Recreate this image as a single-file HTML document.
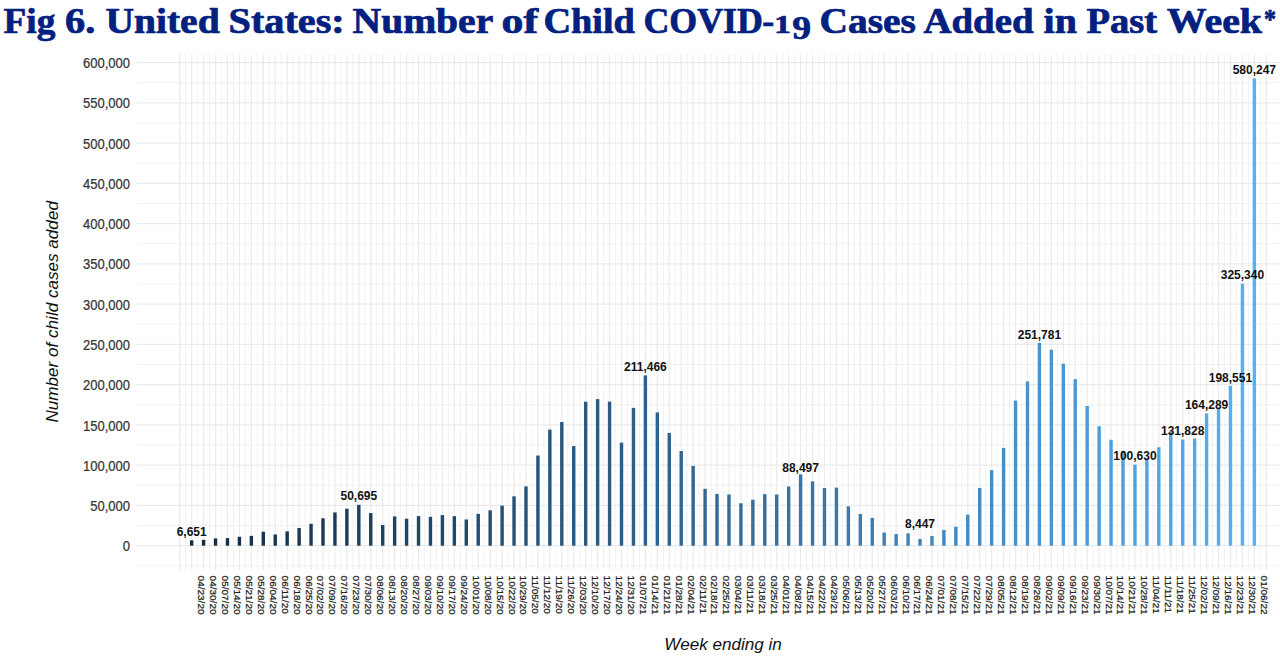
<!DOCTYPE html>
<html><head><meta charset="utf-8"><title>Fig 6</title>
<style>html,body{margin:0;padding:0;background:#fff;overflow:hidden}svg{display:block}text{font-family:"Liberation Sans",sans-serif}.t{font-family:"Liberation Serif",serif;font-weight:bold;font-size:34.8px;fill:#02207f;stroke:#02207f;stroke-width:0.7px;stroke-linejoin:round}.yl{font-size:13px;fill:#333;stroke:#333;stroke-width:0.2px;text-anchor:end}.xl{font-size:10px;fill:#222;stroke:#222;stroke-width:0.25px}.vl{font-size:12px;font-weight:bold;fill:#111;text-anchor:middle}.at{font-size:17.1px;font-style:italic;fill:#111}</style></head><body>
<svg width="1280" height="660" viewBox="0 0 1280 660">
<rect width="1280" height="660" fill="#fff"/>
<text class="t" style="font-size:34.8px" transform="translate(3.58,32.8) scale(1.0708,1)">Fig</text>
<text class="t" style="font-size:34.8px" transform="translate(65.08,32.8) scale(1.1588,1)">6.</text>
<text class="t" style="font-size:34.8px" transform="translate(105.38,32.8) scale(1.137,1)">United</text>
<text class="t" style="font-size:34.8px" transform="translate(228.62,32.8) scale(1.1553,1)">States:</text>
<text class="t" style="font-size:34.8px" transform="translate(352.57,32.8) scale(1.1374,1)">Number</text>
<text class="t" style="font-size:34.8px" transform="translate(501.59,32.8) scale(1.2591,1)">of</text>
<text class="t" style="font-size:34.8px" transform="translate(543.38,32.8) scale(1.0997,1)">Child</text>
<text class="t" style="font-size:34.8px" transform="translate(643.46,32.8) scale(1.0291,1)">COVID</text>
<text class="t" style="font-size:34.8px" transform="translate(762.32,32.8) scale(1.0308,1)">-</text>
<text class="t" style="font-size:24.8px" transform="translate(774.26,32.8) scale(1.3385,1)">1</text>
<text class="t" style="font-size:33.0px" transform="translate(792.28,38.7) scale(1.141,1)">9</text>
<text class="t" style="font-size:34.8px" transform="translate(819.53,32.8) scale(1.1327,1)">Cases</text>
<text class="t" style="font-size:34.8px" transform="translate(923.45,32.8) scale(1.1162,1)">Added</text>
<text class="t" style="font-size:34.8px" transform="translate(1043.53,32.8) scale(1.1487,1)">in</text>
<text class="t" style="font-size:34.8px" transform="translate(1086.47,32.8) scale(1.109,1)">Past</text>
<text class="t" style="font-size:34.8px" transform="translate(1166.86,32.8) scale(1.1447,1)">Week</text>
<text class="t" style="font-size:27.5px" transform="translate(1264.09,28.2) scale(0.8816,1)">*</text>
<g><line x1="136.8" x2="1280" y1="565.83" y2="565.83" stroke="#ebebeb" stroke-width="0.65"/><line x1="136.8" x2="1280" y1="545.70" y2="545.70" stroke="#ebebeb" stroke-width="1.25"/><line x1="136.8" x2="1280" y1="525.57" y2="525.57" stroke="#ebebeb" stroke-width="0.65"/><line x1="136.8" x2="1280" y1="505.43" y2="505.43" stroke="#ebebeb" stroke-width="1.25"/><line x1="136.8" x2="1280" y1="485.30" y2="485.30" stroke="#ebebeb" stroke-width="0.65"/><line x1="136.8" x2="1280" y1="465.17" y2="465.17" stroke="#ebebeb" stroke-width="1.25"/><line x1="136.8" x2="1280" y1="445.03" y2="445.03" stroke="#ebebeb" stroke-width="0.65"/><line x1="136.8" x2="1280" y1="424.90" y2="424.90" stroke="#ebebeb" stroke-width="1.25"/><line x1="136.8" x2="1280" y1="404.77" y2="404.77" stroke="#ebebeb" stroke-width="0.65"/><line x1="136.8" x2="1280" y1="384.63" y2="384.63" stroke="#ebebeb" stroke-width="1.25"/><line x1="136.8" x2="1280" y1="364.50" y2="364.50" stroke="#ebebeb" stroke-width="0.65"/><line x1="136.8" x2="1280" y1="344.37" y2="344.37" stroke="#ebebeb" stroke-width="1.25"/><line x1="136.8" x2="1280" y1="324.23" y2="324.23" stroke="#ebebeb" stroke-width="0.65"/><line x1="136.8" x2="1280" y1="304.10" y2="304.10" stroke="#ebebeb" stroke-width="1.25"/><line x1="136.8" x2="1280" y1="283.97" y2="283.97" stroke="#ebebeb" stroke-width="0.65"/><line x1="136.8" x2="1280" y1="263.83" y2="263.83" stroke="#ebebeb" stroke-width="1.25"/><line x1="136.8" x2="1280" y1="243.70" y2="243.70" stroke="#ebebeb" stroke-width="0.65"/><line x1="136.8" x2="1280" y1="223.57" y2="223.57" stroke="#ebebeb" stroke-width="1.25"/><line x1="136.8" x2="1280" y1="203.43" y2="203.43" stroke="#ebebeb" stroke-width="0.65"/><line x1="136.8" x2="1280" y1="183.30" y2="183.30" stroke="#ebebeb" stroke-width="1.25"/><line x1="136.8" x2="1280" y1="163.17" y2="163.17" stroke="#ebebeb" stroke-width="0.65"/><line x1="136.8" x2="1280" y1="143.03" y2="143.03" stroke="#ebebeb" stroke-width="1.25"/><line x1="136.8" x2="1280" y1="122.90" y2="122.90" stroke="#ebebeb" stroke-width="0.65"/><line x1="136.8" x2="1280" y1="102.77" y2="102.77" stroke="#ebebeb" stroke-width="1.25"/><line x1="136.8" x2="1280" y1="82.63" y2="82.63" stroke="#ebebeb" stroke-width="0.65"/><line x1="136.8" x2="1280" y1="62.50" y2="62.50" stroke="#ebebeb" stroke-width="1.25"/><line x1="179.71" x2="179.71" y1="54.4" y2="569.4" stroke="#ebebeb" stroke-width="1.25"/><line x1="185.68" x2="185.68" y1="54.4" y2="569.4" stroke="#ebebeb" stroke-width="0.65"/><line x1="191.65" x2="191.65" y1="54.4" y2="569.4" stroke="#ebebeb" stroke-width="1.25"/><line x1="197.62" x2="197.62" y1="54.4" y2="569.4" stroke="#ebebeb" stroke-width="0.65"/><line x1="203.59" x2="203.59" y1="54.4" y2="569.4" stroke="#ebebeb" stroke-width="1.25"/><line x1="209.56" x2="209.56" y1="54.4" y2="569.4" stroke="#ebebeb" stroke-width="0.65"/><line x1="215.53" x2="215.53" y1="54.4" y2="569.4" stroke="#ebebeb" stroke-width="1.25"/><line x1="221.50" x2="221.50" y1="54.4" y2="569.4" stroke="#ebebeb" stroke-width="0.65"/><line x1="227.47" x2="227.47" y1="54.4" y2="569.4" stroke="#ebebeb" stroke-width="1.25"/><line x1="233.44" x2="233.44" y1="54.4" y2="569.4" stroke="#ebebeb" stroke-width="0.65"/><line x1="239.41" x2="239.41" y1="54.4" y2="569.4" stroke="#ebebeb" stroke-width="1.25"/><line x1="245.38" x2="245.38" y1="54.4" y2="569.4" stroke="#ebebeb" stroke-width="0.65"/><line x1="251.35" x2="251.35" y1="54.4" y2="569.4" stroke="#ebebeb" stroke-width="1.25"/><line x1="257.32" x2="257.32" y1="54.4" y2="569.4" stroke="#ebebeb" stroke-width="0.65"/><line x1="263.29" x2="263.29" y1="54.4" y2="569.4" stroke="#ebebeb" stroke-width="1.25"/><line x1="269.26" x2="269.26" y1="54.4" y2="569.4" stroke="#ebebeb" stroke-width="0.65"/><line x1="275.23" x2="275.23" y1="54.4" y2="569.4" stroke="#ebebeb" stroke-width="1.25"/><line x1="281.20" x2="281.20" y1="54.4" y2="569.4" stroke="#ebebeb" stroke-width="0.65"/><line x1="287.17" x2="287.17" y1="54.4" y2="569.4" stroke="#ebebeb" stroke-width="1.25"/><line x1="293.14" x2="293.14" y1="54.4" y2="569.4" stroke="#ebebeb" stroke-width="0.65"/><line x1="299.11" x2="299.11" y1="54.4" y2="569.4" stroke="#ebebeb" stroke-width="1.25"/><line x1="305.08" x2="305.08" y1="54.4" y2="569.4" stroke="#ebebeb" stroke-width="0.65"/><line x1="311.05" x2="311.05" y1="54.4" y2="569.4" stroke="#ebebeb" stroke-width="1.25"/><line x1="317.02" x2="317.02" y1="54.4" y2="569.4" stroke="#ebebeb" stroke-width="0.65"/><line x1="322.99" x2="322.99" y1="54.4" y2="569.4" stroke="#ebebeb" stroke-width="1.25"/><line x1="328.97" x2="328.97" y1="54.4" y2="569.4" stroke="#ebebeb" stroke-width="0.65"/><line x1="334.94" x2="334.94" y1="54.4" y2="569.4" stroke="#ebebeb" stroke-width="1.25"/><line x1="340.91" x2="340.91" y1="54.4" y2="569.4" stroke="#ebebeb" stroke-width="0.65"/><line x1="346.88" x2="346.88" y1="54.4" y2="569.4" stroke="#ebebeb" stroke-width="1.25"/><line x1="352.85" x2="352.85" y1="54.4" y2="569.4" stroke="#ebebeb" stroke-width="0.65"/><line x1="358.82" x2="358.82" y1="54.4" y2="569.4" stroke="#ebebeb" stroke-width="1.25"/><line x1="364.79" x2="364.79" y1="54.4" y2="569.4" stroke="#ebebeb" stroke-width="0.65"/><line x1="370.76" x2="370.76" y1="54.4" y2="569.4" stroke="#ebebeb" stroke-width="1.25"/><line x1="376.73" x2="376.73" y1="54.4" y2="569.4" stroke="#ebebeb" stroke-width="0.65"/><line x1="382.70" x2="382.70" y1="54.4" y2="569.4" stroke="#ebebeb" stroke-width="1.25"/><line x1="388.67" x2="388.67" y1="54.4" y2="569.4" stroke="#ebebeb" stroke-width="0.65"/><line x1="394.64" x2="394.64" y1="54.4" y2="569.4" stroke="#ebebeb" stroke-width="1.25"/><line x1="400.61" x2="400.61" y1="54.4" y2="569.4" stroke="#ebebeb" stroke-width="0.65"/><line x1="406.58" x2="406.58" y1="54.4" y2="569.4" stroke="#ebebeb" stroke-width="1.25"/><line x1="412.55" x2="412.55" y1="54.4" y2="569.4" stroke="#ebebeb" stroke-width="0.65"/><line x1="418.52" x2="418.52" y1="54.4" y2="569.4" stroke="#ebebeb" stroke-width="1.25"/><line x1="424.49" x2="424.49" y1="54.4" y2="569.4" stroke="#ebebeb" stroke-width="0.65"/><line x1="430.46" x2="430.46" y1="54.4" y2="569.4" stroke="#ebebeb" stroke-width="1.25"/><line x1="436.43" x2="436.43" y1="54.4" y2="569.4" stroke="#ebebeb" stroke-width="0.65"/><line x1="442.40" x2="442.40" y1="54.4" y2="569.4" stroke="#ebebeb" stroke-width="1.25"/><line x1="448.37" x2="448.37" y1="54.4" y2="569.4" stroke="#ebebeb" stroke-width="0.65"/><line x1="454.34" x2="454.34" y1="54.4" y2="569.4" stroke="#ebebeb" stroke-width="1.25"/><line x1="460.31" x2="460.31" y1="54.4" y2="569.4" stroke="#ebebeb" stroke-width="0.65"/><line x1="466.28" x2="466.28" y1="54.4" y2="569.4" stroke="#ebebeb" stroke-width="1.25"/><line x1="472.25" x2="472.25" y1="54.4" y2="569.4" stroke="#ebebeb" stroke-width="0.65"/><line x1="478.22" x2="478.22" y1="54.4" y2="569.4" stroke="#ebebeb" stroke-width="1.25"/><line x1="484.19" x2="484.19" y1="54.4" y2="569.4" stroke="#ebebeb" stroke-width="0.65"/><line x1="490.16" x2="490.16" y1="54.4" y2="569.4" stroke="#ebebeb" stroke-width="1.25"/><line x1="496.13" x2="496.13" y1="54.4" y2="569.4" stroke="#ebebeb" stroke-width="0.65"/><line x1="502.10" x2="502.10" y1="54.4" y2="569.4" stroke="#ebebeb" stroke-width="1.25"/><line x1="508.07" x2="508.07" y1="54.4" y2="569.4" stroke="#ebebeb" stroke-width="0.65"/><line x1="514.04" x2="514.04" y1="54.4" y2="569.4" stroke="#ebebeb" stroke-width="1.25"/><line x1="520.01" x2="520.01" y1="54.4" y2="569.4" stroke="#ebebeb" stroke-width="0.65"/><line x1="525.98" x2="525.98" y1="54.4" y2="569.4" stroke="#ebebeb" stroke-width="1.25"/><line x1="531.95" x2="531.95" y1="54.4" y2="569.4" stroke="#ebebeb" stroke-width="0.65"/><line x1="537.92" x2="537.92" y1="54.4" y2="569.4" stroke="#ebebeb" stroke-width="1.25"/><line x1="543.89" x2="543.89" y1="54.4" y2="569.4" stroke="#ebebeb" stroke-width="0.65"/><line x1="549.86" x2="549.86" y1="54.4" y2="569.4" stroke="#ebebeb" stroke-width="1.25"/><line x1="555.83" x2="555.83" y1="54.4" y2="569.4" stroke="#ebebeb" stroke-width="0.65"/><line x1="561.80" x2="561.80" y1="54.4" y2="569.4" stroke="#ebebeb" stroke-width="1.25"/><line x1="567.77" x2="567.77" y1="54.4" y2="569.4" stroke="#ebebeb" stroke-width="0.65"/><line x1="573.74" x2="573.74" y1="54.4" y2="569.4" stroke="#ebebeb" stroke-width="1.25"/><line x1="579.71" x2="579.71" y1="54.4" y2="569.4" stroke="#ebebeb" stroke-width="0.65"/><line x1="585.68" x2="585.68" y1="54.4" y2="569.4" stroke="#ebebeb" stroke-width="1.25"/><line x1="591.66" x2="591.66" y1="54.4" y2="569.4" stroke="#ebebeb" stroke-width="0.65"/><line x1="597.63" x2="597.63" y1="54.4" y2="569.4" stroke="#ebebeb" stroke-width="1.25"/><line x1="603.60" x2="603.60" y1="54.4" y2="569.4" stroke="#ebebeb" stroke-width="0.65"/><line x1="609.57" x2="609.57" y1="54.4" y2="569.4" stroke="#ebebeb" stroke-width="1.25"/><line x1="615.54" x2="615.54" y1="54.4" y2="569.4" stroke="#ebebeb" stroke-width="0.65"/><line x1="621.51" x2="621.51" y1="54.4" y2="569.4" stroke="#ebebeb" stroke-width="1.25"/><line x1="627.48" x2="627.48" y1="54.4" y2="569.4" stroke="#ebebeb" stroke-width="0.65"/><line x1="633.45" x2="633.45" y1="54.4" y2="569.4" stroke="#ebebeb" stroke-width="1.25"/><line x1="639.42" x2="639.42" y1="54.4" y2="569.4" stroke="#ebebeb" stroke-width="0.65"/><line x1="645.39" x2="645.39" y1="54.4" y2="569.4" stroke="#ebebeb" stroke-width="1.25"/><line x1="651.36" x2="651.36" y1="54.4" y2="569.4" stroke="#ebebeb" stroke-width="0.65"/><line x1="657.33" x2="657.33" y1="54.4" y2="569.4" stroke="#ebebeb" stroke-width="1.25"/><line x1="663.30" x2="663.30" y1="54.4" y2="569.4" stroke="#ebebeb" stroke-width="0.65"/><line x1="669.27" x2="669.27" y1="54.4" y2="569.4" stroke="#ebebeb" stroke-width="1.25"/><line x1="675.24" x2="675.24" y1="54.4" y2="569.4" stroke="#ebebeb" stroke-width="0.65"/><line x1="681.21" x2="681.21" y1="54.4" y2="569.4" stroke="#ebebeb" stroke-width="1.25"/><line x1="687.18" x2="687.18" y1="54.4" y2="569.4" stroke="#ebebeb" stroke-width="0.65"/><line x1="693.15" x2="693.15" y1="54.4" y2="569.4" stroke="#ebebeb" stroke-width="1.25"/><line x1="699.12" x2="699.12" y1="54.4" y2="569.4" stroke="#ebebeb" stroke-width="0.65"/><line x1="705.09" x2="705.09" y1="54.4" y2="569.4" stroke="#ebebeb" stroke-width="1.25"/><line x1="711.06" x2="711.06" y1="54.4" y2="569.4" stroke="#ebebeb" stroke-width="0.65"/><line x1="717.03" x2="717.03" y1="54.4" y2="569.4" stroke="#ebebeb" stroke-width="1.25"/><line x1="723.00" x2="723.00" y1="54.4" y2="569.4" stroke="#ebebeb" stroke-width="0.65"/><line x1="728.97" x2="728.97" y1="54.4" y2="569.4" stroke="#ebebeb" stroke-width="1.25"/><line x1="734.94" x2="734.94" y1="54.4" y2="569.4" stroke="#ebebeb" stroke-width="0.65"/><line x1="740.91" x2="740.91" y1="54.4" y2="569.4" stroke="#ebebeb" stroke-width="1.25"/><line x1="746.88" x2="746.88" y1="54.4" y2="569.4" stroke="#ebebeb" stroke-width="0.65"/><line x1="752.85" x2="752.85" y1="54.4" y2="569.4" stroke="#ebebeb" stroke-width="1.25"/><line x1="758.82" x2="758.82" y1="54.4" y2="569.4" stroke="#ebebeb" stroke-width="0.65"/><line x1="764.79" x2="764.79" y1="54.4" y2="569.4" stroke="#ebebeb" stroke-width="1.25"/><line x1="770.76" x2="770.76" y1="54.4" y2="569.4" stroke="#ebebeb" stroke-width="0.65"/><line x1="776.73" x2="776.73" y1="54.4" y2="569.4" stroke="#ebebeb" stroke-width="1.25"/><line x1="782.70" x2="782.70" y1="54.4" y2="569.4" stroke="#ebebeb" stroke-width="0.65"/><line x1="788.67" x2="788.67" y1="54.4" y2="569.4" stroke="#ebebeb" stroke-width="1.25"/><line x1="794.64" x2="794.64" y1="54.4" y2="569.4" stroke="#ebebeb" stroke-width="0.65"/><line x1="800.61" x2="800.61" y1="54.4" y2="569.4" stroke="#ebebeb" stroke-width="1.25"/><line x1="806.58" x2="806.58" y1="54.4" y2="569.4" stroke="#ebebeb" stroke-width="0.65"/><line x1="812.55" x2="812.55" y1="54.4" y2="569.4" stroke="#ebebeb" stroke-width="1.25"/><line x1="818.52" x2="818.52" y1="54.4" y2="569.4" stroke="#ebebeb" stroke-width="0.65"/><line x1="824.49" x2="824.49" y1="54.4" y2="569.4" stroke="#ebebeb" stroke-width="1.25"/><line x1="830.46" x2="830.46" y1="54.4" y2="569.4" stroke="#ebebeb" stroke-width="0.65"/><line x1="836.43" x2="836.43" y1="54.4" y2="569.4" stroke="#ebebeb" stroke-width="1.25"/><line x1="842.40" x2="842.40" y1="54.4" y2="569.4" stroke="#ebebeb" stroke-width="0.65"/><line x1="848.37" x2="848.37" y1="54.4" y2="569.4" stroke="#ebebeb" stroke-width="1.25"/><line x1="854.34" x2="854.34" y1="54.4" y2="569.4" stroke="#ebebeb" stroke-width="0.65"/><line x1="860.32" x2="860.32" y1="54.4" y2="569.4" stroke="#ebebeb" stroke-width="1.25"/><line x1="866.29" x2="866.29" y1="54.4" y2="569.4" stroke="#ebebeb" stroke-width="0.65"/><line x1="872.26" x2="872.26" y1="54.4" y2="569.4" stroke="#ebebeb" stroke-width="1.25"/><line x1="878.23" x2="878.23" y1="54.4" y2="569.4" stroke="#ebebeb" stroke-width="0.65"/><line x1="884.20" x2="884.20" y1="54.4" y2="569.4" stroke="#ebebeb" stroke-width="1.25"/><line x1="890.17" x2="890.17" y1="54.4" y2="569.4" stroke="#ebebeb" stroke-width="0.65"/><line x1="896.14" x2="896.14" y1="54.4" y2="569.4" stroke="#ebebeb" stroke-width="1.25"/><line x1="902.11" x2="902.11" y1="54.4" y2="569.4" stroke="#ebebeb" stroke-width="0.65"/><line x1="908.08" x2="908.08" y1="54.4" y2="569.4" stroke="#ebebeb" stroke-width="1.25"/><line x1="914.05" x2="914.05" y1="54.4" y2="569.4" stroke="#ebebeb" stroke-width="0.65"/><line x1="920.02" x2="920.02" y1="54.4" y2="569.4" stroke="#ebebeb" stroke-width="1.25"/><line x1="925.99" x2="925.99" y1="54.4" y2="569.4" stroke="#ebebeb" stroke-width="0.65"/><line x1="931.96" x2="931.96" y1="54.4" y2="569.4" stroke="#ebebeb" stroke-width="1.25"/><line x1="937.93" x2="937.93" y1="54.4" y2="569.4" stroke="#ebebeb" stroke-width="0.65"/><line x1="943.90" x2="943.90" y1="54.4" y2="569.4" stroke="#ebebeb" stroke-width="1.25"/><line x1="949.87" x2="949.87" y1="54.4" y2="569.4" stroke="#ebebeb" stroke-width="0.65"/><line x1="955.84" x2="955.84" y1="54.4" y2="569.4" stroke="#ebebeb" stroke-width="1.25"/><line x1="961.81" x2="961.81" y1="54.4" y2="569.4" stroke="#ebebeb" stroke-width="0.65"/><line x1="967.78" x2="967.78" y1="54.4" y2="569.4" stroke="#ebebeb" stroke-width="1.25"/><line x1="973.75" x2="973.75" y1="54.4" y2="569.4" stroke="#ebebeb" stroke-width="0.65"/><line x1="979.72" x2="979.72" y1="54.4" y2="569.4" stroke="#ebebeb" stroke-width="1.25"/><line x1="985.69" x2="985.69" y1="54.4" y2="569.4" stroke="#ebebeb" stroke-width="0.65"/><line x1="991.66" x2="991.66" y1="54.4" y2="569.4" stroke="#ebebeb" stroke-width="1.25"/><line x1="997.63" x2="997.63" y1="54.4" y2="569.4" stroke="#ebebeb" stroke-width="0.65"/><line x1="1003.60" x2="1003.60" y1="54.4" y2="569.4" stroke="#ebebeb" stroke-width="1.25"/><line x1="1009.57" x2="1009.57" y1="54.4" y2="569.4" stroke="#ebebeb" stroke-width="0.65"/><line x1="1015.54" x2="1015.54" y1="54.4" y2="569.4" stroke="#ebebeb" stroke-width="1.25"/><line x1="1021.51" x2="1021.51" y1="54.4" y2="569.4" stroke="#ebebeb" stroke-width="0.65"/><line x1="1027.48" x2="1027.48" y1="54.4" y2="569.4" stroke="#ebebeb" stroke-width="1.25"/><line x1="1033.45" x2="1033.45" y1="54.4" y2="569.4" stroke="#ebebeb" stroke-width="0.65"/><line x1="1039.42" x2="1039.42" y1="54.4" y2="569.4" stroke="#ebebeb" stroke-width="1.25"/><line x1="1045.39" x2="1045.39" y1="54.4" y2="569.4" stroke="#ebebeb" stroke-width="0.65"/><line x1="1051.36" x2="1051.36" y1="54.4" y2="569.4" stroke="#ebebeb" stroke-width="1.25"/><line x1="1057.33" x2="1057.33" y1="54.4" y2="569.4" stroke="#ebebeb" stroke-width="0.65"/><line x1="1063.30" x2="1063.30" y1="54.4" y2="569.4" stroke="#ebebeb" stroke-width="1.25"/><line x1="1069.27" x2="1069.27" y1="54.4" y2="569.4" stroke="#ebebeb" stroke-width="0.65"/><line x1="1075.24" x2="1075.24" y1="54.4" y2="569.4" stroke="#ebebeb" stroke-width="1.25"/><line x1="1081.21" x2="1081.21" y1="54.4" y2="569.4" stroke="#ebebeb" stroke-width="0.65"/><line x1="1087.18" x2="1087.18" y1="54.4" y2="569.4" stroke="#ebebeb" stroke-width="1.25"/><line x1="1093.15" x2="1093.15" y1="54.4" y2="569.4" stroke="#ebebeb" stroke-width="0.65"/><line x1="1099.12" x2="1099.12" y1="54.4" y2="569.4" stroke="#ebebeb" stroke-width="1.25"/><line x1="1105.09" x2="1105.09" y1="54.4" y2="569.4" stroke="#ebebeb" stroke-width="0.65"/><line x1="1111.06" x2="1111.06" y1="54.4" y2="569.4" stroke="#ebebeb" stroke-width="1.25"/><line x1="1117.03" x2="1117.03" y1="54.4" y2="569.4" stroke="#ebebeb" stroke-width="0.65"/><line x1="1123.01" x2="1123.01" y1="54.4" y2="569.4" stroke="#ebebeb" stroke-width="1.25"/><line x1="1128.98" x2="1128.98" y1="54.4" y2="569.4" stroke="#ebebeb" stroke-width="0.65"/><line x1="1134.95" x2="1134.95" y1="54.4" y2="569.4" stroke="#ebebeb" stroke-width="1.25"/><line x1="1140.92" x2="1140.92" y1="54.4" y2="569.4" stroke="#ebebeb" stroke-width="0.65"/><line x1="1146.89" x2="1146.89" y1="54.4" y2="569.4" stroke="#ebebeb" stroke-width="1.25"/><line x1="1152.86" x2="1152.86" y1="54.4" y2="569.4" stroke="#ebebeb" stroke-width="0.65"/><line x1="1158.83" x2="1158.83" y1="54.4" y2="569.4" stroke="#ebebeb" stroke-width="1.25"/><line x1="1164.80" x2="1164.80" y1="54.4" y2="569.4" stroke="#ebebeb" stroke-width="0.65"/><line x1="1170.77" x2="1170.77" y1="54.4" y2="569.4" stroke="#ebebeb" stroke-width="1.25"/><line x1="1176.74" x2="1176.74" y1="54.4" y2="569.4" stroke="#ebebeb" stroke-width="0.65"/><line x1="1182.71" x2="1182.71" y1="54.4" y2="569.4" stroke="#ebebeb" stroke-width="1.25"/><line x1="1188.68" x2="1188.68" y1="54.4" y2="569.4" stroke="#ebebeb" stroke-width="0.65"/><line x1="1194.65" x2="1194.65" y1="54.4" y2="569.4" stroke="#ebebeb" stroke-width="1.25"/><line x1="1200.62" x2="1200.62" y1="54.4" y2="569.4" stroke="#ebebeb" stroke-width="0.65"/><line x1="1206.59" x2="1206.59" y1="54.4" y2="569.4" stroke="#ebebeb" stroke-width="1.25"/><line x1="1212.56" x2="1212.56" y1="54.4" y2="569.4" stroke="#ebebeb" stroke-width="0.65"/><line x1="1218.53" x2="1218.53" y1="54.4" y2="569.4" stroke="#ebebeb" stroke-width="1.25"/><line x1="1224.50" x2="1224.50" y1="54.4" y2="569.4" stroke="#ebebeb" stroke-width="0.65"/><line x1="1230.47" x2="1230.47" y1="54.4" y2="569.4" stroke="#ebebeb" stroke-width="1.25"/><line x1="1236.44" x2="1236.44" y1="54.4" y2="569.4" stroke="#ebebeb" stroke-width="0.65"/><line x1="1242.41" x2="1242.41" y1="54.4" y2="569.4" stroke="#ebebeb" stroke-width="1.25"/><line x1="1248.38" x2="1248.38" y1="54.4" y2="569.4" stroke="#ebebeb" stroke-width="0.65"/><line x1="1254.35" x2="1254.35" y1="54.4" y2="569.4" stroke="#ebebeb" stroke-width="1.25"/><line x1="1260.32" x2="1260.32" y1="54.4" y2="569.4" stroke="#ebebeb" stroke-width="0.65"/><line x1="1266.29" x2="1266.29" y1="54.4" y2="569.4" stroke="#ebebeb" stroke-width="1.25"/></g>
<g><rect x="189.95" y="540.34" width="3.4" height="5.36" fill="#132b43"/><rect x="201.89" y="539.86" width="3.4" height="5.84" fill="#142c45"/><rect x="213.83" y="538.45" width="3.4" height="7.25" fill="#142e47"/><rect x="225.77" y="538.13" width="3.4" height="7.57" fill="#152f48"/><rect x="237.71" y="536.76" width="3.4" height="8.94" fill="#16304a"/><rect x="249.65" y="535.87" width="3.4" height="9.83" fill="#16324c"/><rect x="261.59" y="531.77" width="3.4" height="13.93" fill="#17334e"/><rect x="273.53" y="534.51" width="3.4" height="11.19" fill="#183450"/><rect x="285.47" y="531.37" width="3.4" height="14.33" fill="#183651"/><rect x="297.41" y="528.06" width="3.4" height="17.64" fill="#193753"/><rect x="309.35" y="523.79" width="3.4" height="21.91" fill="#1a3855"/><rect x="321.29" y="518.32" width="3.4" height="27.38" fill="#1a3a57"/><rect x="333.24" y="512.44" width="3.4" height="33.26" fill="#1b3b59"/><rect x="345.18" y="508.74" width="3.4" height="36.96" fill="#1c3c5b"/><rect x="357.12" y="504.87" width="3.4" height="40.83" fill="#1d3e5c"/><rect x="369.06" y="513.08" width="3.4" height="32.62" fill="#1d3f5e"/><rect x="381.00" y="525.08" width="3.4" height="20.62" fill="#1e4160"/><rect x="392.94" y="516.47" width="3.4" height="29.23" fill="#1f4262"/><rect x="404.88" y="518.72" width="3.4" height="26.98" fill="#1f4364"/><rect x="416.82" y="516.14" width="3.4" height="29.56" fill="#204566"/><rect x="428.76" y="516.87" width="3.4" height="28.83" fill="#214668"/><rect x="440.70" y="515.10" width="3.4" height="30.60" fill="#22486a"/><rect x="452.64" y="516.14" width="3.4" height="29.56" fill="#22496b"/><rect x="464.58" y="519.45" width="3.4" height="26.25" fill="#234a6d"/><rect x="476.52" y="513.89" width="3.4" height="31.81" fill="#244c6f"/><rect x="488.46" y="510.27" width="3.4" height="35.43" fill="#244d71"/><rect x="500.40" y="505.59" width="3.4" height="40.11" fill="#254f73"/><rect x="512.34" y="496.33" width="3.4" height="49.37" fill="#265075"/><rect x="524.28" y="486.43" width="3.4" height="59.27" fill="#275277"/><rect x="536.22" y="455.55" width="3.4" height="90.15" fill="#275379"/><rect x="548.16" y="429.62" width="3.4" height="116.08" fill="#28557b"/><rect x="560.10" y="421.99" width="3.4" height="123.71" fill="#29567d"/><rect x="572.04" y="446.09" width="3.4" height="99.61" fill="#29577f"/><rect x="583.98" y="401.69" width="3.4" height="144.01" fill="#2a5981"/><rect x="595.93" y="399.11" width="3.4" height="146.59" fill="#2b5a83"/><rect x="607.87" y="401.60" width="3.4" height="144.10" fill="#2c5c85"/><rect x="619.81" y="442.62" width="3.4" height="103.08" fill="#2c5d87"/><rect x="631.75" y="407.92" width="3.4" height="137.78" fill="#2d5f89"/><rect x="643.69" y="375.40" width="3.4" height="170.30" fill="#2e608b"/><rect x="655.63" y="412.43" width="3.4" height="133.27" fill="#2f628d"/><rect x="667.57" y="432.92" width="3.4" height="112.78" fill="#2f638f"/><rect x="679.51" y="451.06" width="3.4" height="94.64" fill="#306591"/><rect x="691.45" y="465.91" width="3.4" height="79.79" fill="#316693"/><rect x="703.39" y="488.81" width="3.4" height="56.89" fill="#326895"/><rect x="715.33" y="493.95" width="3.4" height="51.75" fill="#326997"/><rect x="727.27" y="494.51" width="3.4" height="51.19" fill="#336b99"/><rect x="739.21" y="503.26" width="3.4" height="42.44" fill="#346c9b"/><rect x="751.15" y="499.73" width="3.4" height="45.97" fill="#356e9d"/><rect x="763.09" y="494.14" width="3.4" height="51.56" fill="#356f9f"/><rect x="775.03" y="494.56" width="3.4" height="51.14" fill="#3671a1"/><rect x="786.97" y="486.51" width="3.4" height="59.19" fill="#3773a3"/><rect x="798.91" y="474.43" width="3.4" height="71.27" fill="#3874a5"/><rect x="810.85" y="481.37" width="3.4" height="64.33" fill="#3976a7"/><rect x="822.79" y="488.00" width="3.4" height="57.70" fill="#3977a9"/><rect x="834.73" y="487.66" width="3.4" height="58.04" fill="#3a79ac"/><rect x="846.67" y="506.31" width="3.4" height="39.39" fill="#3b7aae"/><rect x="858.62" y="513.97" width="3.4" height="31.73" fill="#3c7cb0"/><rect x="870.56" y="517.95" width="3.4" height="27.75" fill="#3c7db2"/><rect x="882.50" y="532.59" width="3.4" height="13.11" fill="#3d7fb4"/><rect x="894.44" y="534.08" width="3.4" height="11.62" fill="#3e80b6"/><rect x="906.38" y="533.38" width="3.4" height="12.32" fill="#3f82b8"/><rect x="918.32" y="538.90" width="3.4" height="6.80" fill="#3f84ba"/><rect x="930.26" y="536.06" width="3.4" height="9.64" fill="#4085bc"/><rect x="942.20" y="530.01" width="3.4" height="15.69" fill="#4187be"/><rect x="954.14" y="526.73" width="3.4" height="18.97" fill="#4288c1"/><rect x="966.08" y="514.57" width="3.4" height="31.13" fill="#438ac3"/><rect x="978.02" y="487.94" width="3.4" height="57.76" fill="#438cc5"/><rect x="989.96" y="470.14" width="3.4" height="75.56" fill="#448dc7"/><rect x="1001.90" y="447.91" width="3.4" height="97.79" fill="#458fc9"/><rect x="1013.84" y="400.60" width="3.4" height="145.10" fill="#4690cb"/><rect x="1025.78" y="381.44" width="3.4" height="164.26" fill="#4792cd"/><rect x="1037.72" y="342.93" width="3.4" height="202.77" fill="#4794d0"/><rect x="1049.66" y="349.70" width="3.4" height="196.00" fill="#4895d2"/><rect x="1061.60" y="363.71" width="3.4" height="181.99" fill="#4997d4"/><rect x="1073.54" y="379.11" width="3.4" height="166.59" fill="#4a98d6"/><rect x="1085.48" y="406.00" width="3.4" height="139.70" fill="#4b9ad8"/><rect x="1097.42" y="426.33" width="3.4" height="119.37" fill="#4b9cda"/><rect x="1109.36" y="439.82" width="3.4" height="105.88" fill="#4c9ddd"/><rect x="1121.31" y="450.69" width="3.4" height="95.01" fill="#4d9fdf"/><rect x="1133.25" y="464.66" width="3.4" height="81.04" fill="#4ea1e1"/><rect x="1145.19" y="459.25" width="3.4" height="86.45" fill="#4fa2e3"/><rect x="1157.13" y="447.26" width="3.4" height="98.44" fill="#4fa4e5"/><rect x="1169.07" y="431.42" width="3.4" height="114.28" fill="#50a5e7"/><rect x="1181.01" y="439.53" width="3.4" height="106.17" fill="#51a7ea"/><rect x="1192.95" y="438.57" width="3.4" height="107.13" fill="#52a9ec"/><rect x="1204.89" y="413.39" width="3.4" height="132.31" fill="#53aaee"/><rect x="1216.83" y="408.82" width="3.4" height="136.88" fill="#54acf0"/><rect x="1228.77" y="385.80" width="3.4" height="159.90" fill="#54aef3"/><rect x="1240.71" y="283.69" width="3.4" height="262.01" fill="#55aff5"/><rect x="1252.65" y="78.41" width="3.4" height="467.29" fill="#56b1f7"/></g>
<g><text class="yl" transform="translate(130.0,551.35) scale(1,1.07)">0</text><text class="yl" transform="translate(130.0,511.08) scale(1,1.07)">50,000</text><text class="yl" transform="translate(130.0,470.82) scale(1,1.07)">100,000</text><text class="yl" transform="translate(130.0,430.55) scale(1,1.07)">150,000</text><text class="yl" transform="translate(130.0,390.28) scale(1,1.07)">200,000</text><text class="yl" transform="translate(130.0,350.02) scale(1,1.07)">250,000</text><text class="yl" transform="translate(130.0,309.75) scale(1,1.07)">300,000</text><text class="yl" transform="translate(130.0,269.48) scale(1,1.07)">350,000</text><text class="yl" transform="translate(130.0,229.22) scale(1,1.07)">400,000</text><text class="yl" transform="translate(130.0,188.95) scale(1,1.07)">450,000</text><text class="yl" transform="translate(130.0,148.68) scale(1,1.07)">500,000</text><text class="yl" transform="translate(130.0,108.42) scale(1,1.07)">550,000</text><text class="yl" transform="translate(130.0,68.15) scale(1,1.07)">600,000</text></g>
<g><text class="xl" transform="translate(198.05,575.6) rotate(90) scale(1,0.95)">04/23/20</text><text class="xl" transform="translate(209.99,575.6) rotate(90) scale(1,0.95)">04/30/20</text><text class="xl" transform="translate(221.93,575.6) rotate(90) scale(1,0.95)">05/07/20</text><text class="xl" transform="translate(233.87,575.6) rotate(90) scale(1,0.95)">05/14/20</text><text class="xl" transform="translate(245.81,575.6) rotate(90) scale(1,0.95)">05/21/20</text><text class="xl" transform="translate(257.75,575.6) rotate(90) scale(1,0.95)">05/28/20</text><text class="xl" transform="translate(269.69,575.6) rotate(90) scale(1,0.95)">06/04/20</text><text class="xl" transform="translate(281.63,575.6) rotate(90) scale(1,0.95)">06/11/20</text><text class="xl" transform="translate(293.57,575.6) rotate(90) scale(1,0.95)">06/18/20</text><text class="xl" transform="translate(305.51,575.6) rotate(90) scale(1,0.95)">06/25/20</text><text class="xl" transform="translate(317.45,575.6) rotate(90) scale(1,0.95)">07/02/20</text><text class="xl" transform="translate(329.39,575.6) rotate(90) scale(1,0.95)">07/09/20</text><text class="xl" transform="translate(341.34,575.6) rotate(90) scale(1,0.95)">07/16/20</text><text class="xl" transform="translate(353.28,575.6) rotate(90) scale(1,0.95)">07/23/20</text><text class="xl" transform="translate(365.22,575.6) rotate(90) scale(1,0.95)">07/30/20</text><text class="xl" transform="translate(377.16,575.6) rotate(90) scale(1,0.95)">08/06/20</text><text class="xl" transform="translate(389.10,575.6) rotate(90) scale(1,0.95)">08/13/20</text><text class="xl" transform="translate(401.04,575.6) rotate(90) scale(1,0.95)">08/20/20</text><text class="xl" transform="translate(412.98,575.6) rotate(90) scale(1,0.95)">08/27/20</text><text class="xl" transform="translate(424.92,575.6) rotate(90) scale(1,0.95)">09/03/20</text><text class="xl" transform="translate(436.86,575.6) rotate(90) scale(1,0.95)">09/10/20</text><text class="xl" transform="translate(448.80,575.6) rotate(90) scale(1,0.95)">09/17/20</text><text class="xl" transform="translate(460.74,575.6) rotate(90) scale(1,0.95)">09/24/20</text><text class="xl" transform="translate(472.68,575.6) rotate(90) scale(1,0.95)">10/01/20</text><text class="xl" transform="translate(484.62,575.6) rotate(90) scale(1,0.95)">10/08/20</text><text class="xl" transform="translate(496.56,575.6) rotate(90) scale(1,0.95)">10/15/20</text><text class="xl" transform="translate(508.50,575.6) rotate(90) scale(1,0.95)">10/22/20</text><text class="xl" transform="translate(520.44,575.6) rotate(90) scale(1,0.95)">10/29/20</text><text class="xl" transform="translate(532.38,575.6) rotate(90) scale(1,0.95)">11/05/20</text><text class="xl" transform="translate(544.32,575.6) rotate(90) scale(1,0.95)">11/12/20</text><text class="xl" transform="translate(556.26,575.6) rotate(90) scale(1,0.95)">11/19/20</text><text class="xl" transform="translate(568.20,575.6) rotate(90) scale(1,0.95)">11/26/20</text><text class="xl" transform="translate(580.14,575.6) rotate(90) scale(1,0.95)">12/03/20</text><text class="xl" transform="translate(592.08,575.6) rotate(90) scale(1,0.95)">12/10/20</text><text class="xl" transform="translate(604.03,575.6) rotate(90) scale(1,0.95)">12/17/20</text><text class="xl" transform="translate(615.97,575.6) rotate(90) scale(1,0.95)">12/24/20</text><text class="xl" transform="translate(627.91,575.6) rotate(90) scale(1,0.95)">12/31/20</text><text class="xl" transform="translate(639.85,575.6) rotate(90) scale(1,0.95)">01/07/21</text><text class="xl" transform="translate(651.79,575.6) rotate(90) scale(1,0.95)">01/14/21</text><text class="xl" transform="translate(663.73,575.6) rotate(90) scale(1,0.95)">01/21/21</text><text class="xl" transform="translate(675.67,575.6) rotate(90) scale(1,0.95)">01/28/21</text><text class="xl" transform="translate(687.61,575.6) rotate(90) scale(1,0.95)">02/04/21</text><text class="xl" transform="translate(699.55,575.6) rotate(90) scale(1,0.95)">02/11/21</text><text class="xl" transform="translate(711.49,575.6) rotate(90) scale(1,0.95)">02/18/21</text><text class="xl" transform="translate(723.43,575.6) rotate(90) scale(1,0.95)">02/25/21</text><text class="xl" transform="translate(735.37,575.6) rotate(90) scale(1,0.95)">03/04/21</text><text class="xl" transform="translate(747.31,575.6) rotate(90) scale(1,0.95)">03/11/21</text><text class="xl" transform="translate(759.25,575.6) rotate(90) scale(1,0.95)">03/18/21</text><text class="xl" transform="translate(771.19,575.6) rotate(90) scale(1,0.95)">03/25/21</text><text class="xl" transform="translate(783.13,575.6) rotate(90) scale(1,0.95)">04/01/21</text><text class="xl" transform="translate(795.07,575.6) rotate(90) scale(1,0.95)">04/08/21</text><text class="xl" transform="translate(807.01,575.6) rotate(90) scale(1,0.95)">04/15/21</text><text class="xl" transform="translate(818.95,575.6) rotate(90) scale(1,0.95)">04/22/21</text><text class="xl" transform="translate(830.89,575.6) rotate(90) scale(1,0.95)">04/29/21</text><text class="xl" transform="translate(842.83,575.6) rotate(90) scale(1,0.95)">05/06/21</text><text class="xl" transform="translate(854.77,575.6) rotate(90) scale(1,0.95)">05/13/21</text><text class="xl" transform="translate(866.72,575.6) rotate(90) scale(1,0.95)">05/20/21</text><text class="xl" transform="translate(878.66,575.6) rotate(90) scale(1,0.95)">05/27/21</text><text class="xl" transform="translate(890.60,575.6) rotate(90) scale(1,0.95)">06/03/21</text><text class="xl" transform="translate(902.54,575.6) rotate(90) scale(1,0.95)">06/10/21</text><text class="xl" transform="translate(914.48,575.6) rotate(90) scale(1,0.95)">06/17/21</text><text class="xl" transform="translate(926.42,575.6) rotate(90) scale(1,0.95)">06/24/21</text><text class="xl" transform="translate(938.36,575.6) rotate(90) scale(1,0.95)">07/01/21</text><text class="xl" transform="translate(950.30,575.6) rotate(90) scale(1,0.95)">07/08/21</text><text class="xl" transform="translate(962.24,575.6) rotate(90) scale(1,0.95)">07/15/21</text><text class="xl" transform="translate(974.18,575.6) rotate(90) scale(1,0.95)">07/22/21</text><text class="xl" transform="translate(986.12,575.6) rotate(90) scale(1,0.95)">07/29/21</text><text class="xl" transform="translate(998.06,575.6) rotate(90) scale(1,0.95)">08/05/21</text><text class="xl" transform="translate(1010.00,575.6) rotate(90) scale(1,0.95)">08/12/21</text><text class="xl" transform="translate(1021.94,575.6) rotate(90) scale(1,0.95)">08/19/21</text><text class="xl" transform="translate(1033.88,575.6) rotate(90) scale(1,0.95)">08/26/21</text><text class="xl" transform="translate(1045.82,575.6) rotate(90) scale(1,0.95)">09/02/21</text><text class="xl" transform="translate(1057.76,575.6) rotate(90) scale(1,0.95)">09/09/21</text><text class="xl" transform="translate(1069.70,575.6) rotate(90) scale(1,0.95)">09/16/21</text><text class="xl" transform="translate(1081.64,575.6) rotate(90) scale(1,0.95)">09/23/21</text><text class="xl" transform="translate(1093.58,575.6) rotate(90) scale(1,0.95)">09/30/21</text><text class="xl" transform="translate(1105.52,575.6) rotate(90) scale(1,0.95)">10/07/21</text><text class="xl" transform="translate(1117.46,575.6) rotate(90) scale(1,0.95)">10/14/21</text><text class="xl" transform="translate(1129.41,575.6) rotate(90) scale(1,0.95)">10/21/21</text><text class="xl" transform="translate(1141.35,575.6) rotate(90) scale(1,0.95)">10/28/21</text><text class="xl" transform="translate(1153.29,575.6) rotate(90) scale(1,0.95)">11/04/21</text><text class="xl" transform="translate(1165.23,575.6) rotate(90) scale(1,0.95)">11/11/21</text><text class="xl" transform="translate(1177.17,575.6) rotate(90) scale(1,0.95)">11/18/21</text><text class="xl" transform="translate(1189.11,575.6) rotate(90) scale(1,0.95)">11/25/21</text><text class="xl" transform="translate(1201.05,575.6) rotate(90) scale(1,0.95)">12/02/21</text><text class="xl" transform="translate(1212.99,575.6) rotate(90) scale(1,0.95)">12/09/21</text><text class="xl" transform="translate(1224.93,575.6) rotate(90) scale(1,0.95)">12/16/21</text><text class="xl" transform="translate(1236.87,575.6) rotate(90) scale(1,0.95)">12/23/21</text><text class="xl" transform="translate(1248.81,575.6) rotate(90) scale(1,0.95)">12/30/21</text><text class="xl" transform="translate(1260.75,575.6) rotate(90) scale(1,0.95)">01/06/22</text></g>
<g><text class="vl" x="191.65" y="536.34">6,651</text><text class="vl" x="358.82" y="500.27">50,695</text><text class="vl" x="645.39" y="371.30">211,466</text><text class="vl" x="800.61" y="471.83">88,497</text><text class="vl" x="920.02" y="527.60">8,447</text><text class="vl" x="1039.42" y="338.63">251,781</text><text class="vl" x="1134.95" y="460.36">100,630</text><text class="vl" x="1182.71" y="434.73">131,828</text><text class="vl" x="1206.59" y="408.79">164,289</text><text class="vl" x="1230.47" y="381.70">198,551</text><text class="vl" x="1242.41" y="278.99">325,340</text><text class="vl" x="1254.35" y="74.21">580,247</text></g>
<text class="at" x="723.1" y="649.7" text-anchor="middle">Week ending in</text>
<text class="at" transform="translate(57.5,311.8) rotate(-90)" text-anchor="middle">Number of child cases added</text>
</svg></body></html>
